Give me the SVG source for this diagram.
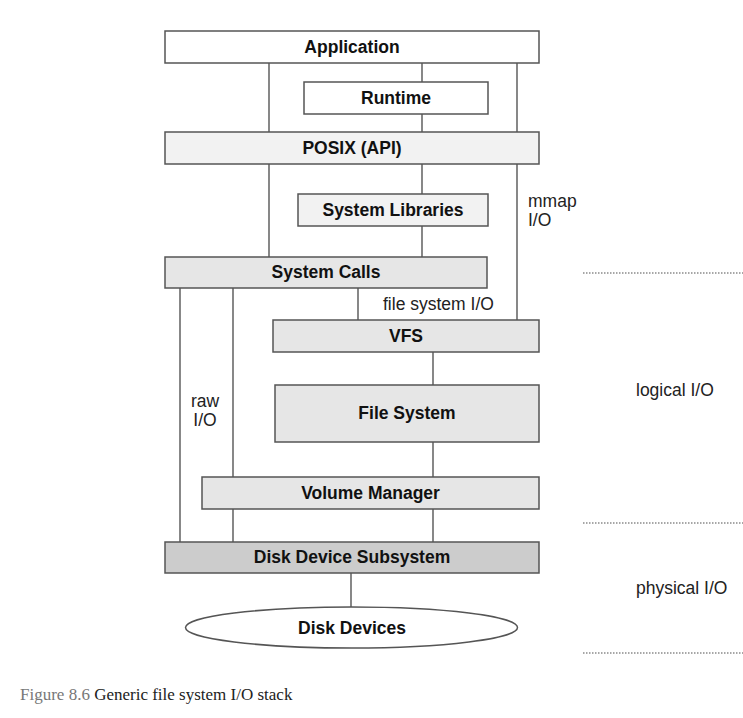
<svg xmlns="http://www.w3.org/2000/svg" width="743" height="718" viewBox="0 0 743 718">
<style>
.box{stroke:#555;stroke-width:1.5}
.w{fill:#ffffff}.l1{fill:#f2f2f2}.l2{fill:#e6e6e6}.l3{fill:#cccccc}
.t{font-family:"Liberation Sans",Arial,sans-serif;font-size:17.5px;font-weight:bold;fill:#111;text-anchor:middle}
.n{font-family:"Liberation Sans",Arial,sans-serif;font-size:17.5px;fill:#222}
.c line{stroke:#555;stroke-width:1.4}
.dot{stroke:#8a8a8a;stroke-width:1.3;stroke-dasharray:1.5 1.5}
.cap{font-family:"Liberation Serif","Times New Roman",serif;font-size:17px}
</style>
<rect width="743" height="718" fill="#fff"/>
<g class="c" id="connectors">
<line x1="269" y1="63" x2="269" y2="132"/>
<line x1="269" y1="164" x2="269" y2="257"/>
<line x1="422" y1="63" x2="422" y2="82"/>
<line x1="422" y1="114" x2="422" y2="132"/>
<line x1="422" y1="164" x2="422" y2="194"/>
<line x1="422" y1="226" x2="422" y2="257"/>
<line x1="517" y1="63" x2="517" y2="132"/>
<line x1="517" y1="164" x2="517" y2="320"/>
<line x1="358" y1="288" x2="358" y2="320"/>
<line x1="180" y1="288" x2="180" y2="542"/>
<line x1="233" y1="288" x2="233" y2="477"/>
<line x1="233" y1="509" x2="233" y2="542"/>
<line x1="433" y1="352" x2="433" y2="385"/>
<line x1="433" y1="442" x2="433" y2="477"/>
<line x1="433" y1="509" x2="433" y2="542"/>
<line x1="351" y1="573" x2="351" y2="607"/>
</g>
<g id="application"><rect class="box w" x="165" y="31" width="374" height="32"/><text class="t" x="352" y="53">Application</text></g>
<g id="runtime"><rect class="box w" x="304" y="82" width="184" height="32"/><text class="t" x="396" y="104">Runtime</text></g>
<g id="posix"><rect class="box l1" x="165" y="132" width="374" height="32"/><text class="t" x="352" y="154">POSIX (API)</text></g>
<g id="syslib"><rect class="box l1" x="298" y="194" width="190" height="32"/><text class="t" x="393" y="216">System Libraries</text></g>
<g id="syscalls"><rect class="box l2" x="165" y="257" width="322" height="31"/><text class="t" x="326" y="278">System Calls</text></g>
<g id="vfs"><rect class="box l2" x="273" y="320" width="266" height="32"/><text class="t" x="406" y="342">VFS</text></g>
<g id="filesystem"><rect class="box l2" x="275" y="385" width="264" height="57"/><text class="t" x="407" y="419">File System</text></g>
<g id="volmgr"><rect class="box l2" x="202" y="477" width="337" height="32"/><text class="t" x="370.5" y="499">Volume Manager</text></g>
<g id="diskdev"><rect class="box l3" x="165" y="542" width="374" height="31"/><text class="t" x="352" y="563">Disk Device Subsystem</text></g>
<g id="disks"><ellipse class="box w" cx="351.5" cy="627.5" rx="166" ry="20.5"/><text class="t" x="352" y="634">Disk Devices</text></g>
<g id="labels">
<text class="n" x="528" y="207">mmap</text>
<text class="n" x="528" y="226">I/O</text>
<text class="n" x="383" y="310">file system I/O</text>
<text class="n" x="205" y="407" text-anchor="middle">raw</text>
<text class="n" x="205" y="426" text-anchor="middle">I/O</text>
<text class="n" x="636" y="396">logical I/O</text>
<text class="n" x="636" y="594">physical I/O</text>
</g>
<g id="dividers">
<line class="dot" x1="583" y1="273" x2="743" y2="273"/>
<line class="dot" x1="583" y1="523" x2="743" y2="523"/>
<line class="dot" x1="583" y1="653" x2="743" y2="653"/>
</g>
<text class="cap" x="20" y="700"><tspan fill="#777">Figure 8.6</tspan><tspan fill="#222"> Generic file system I/O stack</tspan></text>
</svg>
